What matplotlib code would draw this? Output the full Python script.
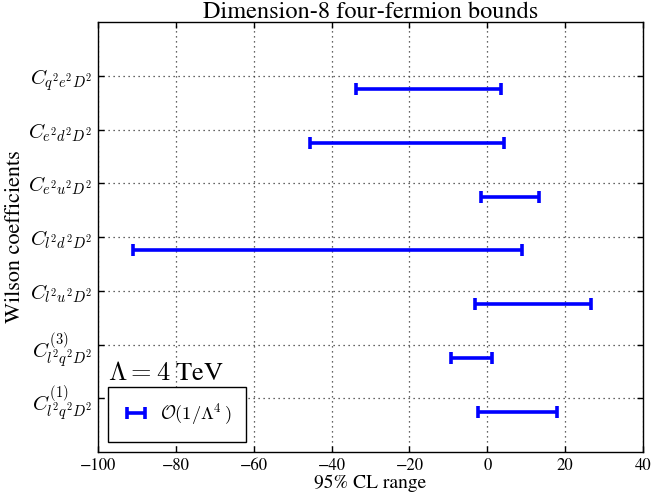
import matplotlib
matplotlib.use("Agg")
import matplotlib.pyplot as plt
import numpy as np

plt.rcParams['font.family'] = 'serif'
plt.rcParams['font.serif'] = ['STIXGeneral', 'Liberation Serif', 'DejaVu Serif']
plt.rcParams['mathtext.fontset'] = 'cm'

labels = [r'$C^{(1)}_{l^2q^2D^2}$', r'$C^{(3)}_{l^2q^2D^2}$', r'$C_{l^2u^2D^2}$',
          r'$C_{l^2d^2D^2}$', r'$C_{e^2u^2D^2}$', r'$C_{e^2d^2D^2}$', r'$C_{q^2e^2D^2}$']
lower = [-2.5, -9.4, -3.1, -91.1, -1.6, -45.6, -33.6]
upper = [18.0, 1.1, 26.6, 8.9, 13.2, 4.4, 3.6]
x_ticks = [-100, -80, -60, -40, -20, 0, 20, 40]

lower = np.array(lower)
upper = np.array(upper)
center = (lower + upper) / 2
pos = np.arange(1, len(labels) + 1)

fig = plt.figure(figsize=(6.53, 4.99), dpi=100)
ax = fig.add_axes([98/653, 47/499, 545/653, 430/499])

ax.errorbar(center, pos - 0.25, xerr=[center - lower, upper - center], fmt='none',
            ecolor='blue', elinewidth=2.6, capsize=4.5, capthick=2.6,
            label=r'$\mathcal{O}(1/\Lambda^4\,)$')

ax.set_xlim(-100, 40)
ax.set_ylim(0, 8)
ax.set_xticks(x_ticks)
ax.set_xticklabels([f'{t}' if t >= 0 else f'\u2212{-t}' for t in x_ticks], fontsize=12)
ax.set_yticks(pos)
ax.set_yticklabels(labels, fontsize=15)
ax.tick_params(direction='in', top=True, right=True, length=4, width=1, pad=4)
ax.grid(True, linestyle=(0, (1, 3)), color='0.2', linewidth=0.9)
for s in ax.spines.values():
    s.set_linewidth(1)

ax.set_title('Dimension-8 four-fermion bounds', fontsize=17.5, pad=3)
ax.set_xlabel('95% CL range', fontsize=14, labelpad=1)
ax.set_ylabel('Wilson coefficients', fontsize=16, va='center')
ax.yaxis.set_label_coords(-0.152, 0.5)

ax.text(-97.5, 1.45, r'$\Lambda = 4$ TeV', fontsize=19, va='center', ha='left',
        family='STIXGeneral')

leg = ax.legend(loc='lower left', fontsize=13.3, frameon=True, fancybox=False,
                edgecolor='black', framealpha=1, handlelength=1.4,
                handletextpad=0.6, borderpad=0.8, borderaxespad=0.55)
leg.get_frame().set_linewidth(1)

fig.savefig('out.png', dpi=100)
